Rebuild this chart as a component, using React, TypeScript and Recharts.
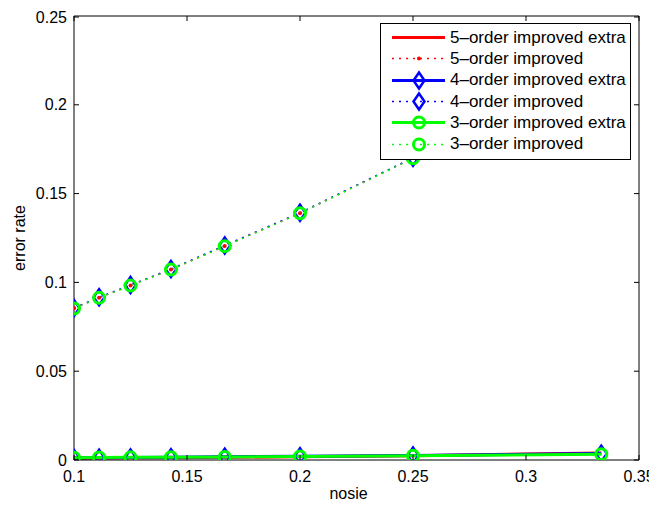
import React from 'react';
import { LineChart, Line, XAxis, YAxis, Legend, ReferenceLine } from 'recharts';

const noise = [0.1, 0.1111, 0.125, 0.1429, 0.1667, 0.2, 0.25, 0.3333];
const imp5 = [0.0854, 0.0914, 0.0983, 0.1072, 0.1205, 0.139, 0.17, 0.225];
const imp4 = [0.0856, 0.0916, 0.0985, 0.1075, 0.1208, 0.1392, 0.1702, 0.2252];
const imp3 = [0.0853, 0.0913, 0.0982, 0.1072, 0.1204, 0.1389, 0.1699, 0.2249];
const ext5 = [0.001, 0.0011, 0.0012, 0.0013, 0.0015, 0.0018, 0.0024, 0.004];
const ext4 = [0.0012, 0.0013, 0.0014, 0.0016, 0.0018, 0.0021, 0.0026, 0.0036];
const ext3 = [0.0013, 0.0014, 0.0015, 0.0016, 0.0017, 0.002, 0.0024, 0.0032];

const xTicks = [0.1, 0.15, 0.2, 0.25, 0.3, 0.35];
const yTicks = [0, 0.05, 0.1, 0.15, 0.2, 0.25];

const data = noise.map((x, i) => ({
  x,
  ext5: ext5[i],
  imp5: imp5[i],
  ext4: ext4[i],
  imp4: imp4[i],
  ext3: ext3[i],
  imp3: imp3[i],
}));

const FONT = '"Liberation Sans", Arial, sans-serif';
const TICK_LEN = 5;
const PLOT_H = 444;
const PLOT_W = 565;

const fmt = (v: number) => String(Number(v.toFixed(3)));

// bottom tick: label below, tick mark inward at bottom and mirrored at top
const BottomTick = (props: any) => {
  const { x, y, payload } = props;
  return (
    <g>
      <line x1={x} y1={y} x2={x} y2={y - TICK_LEN} stroke="#000" />
      <line x1={x} y1={y - PLOT_H} x2={x} y2={y - PLOT_H + TICK_LEN} stroke="#000" />
      <text x={x} y={y + 22} textAnchor="middle" fontSize={16} fontFamily={FONT} fill="#000">
        {fmt(payload.value)}
      </text>
    </g>
  );
};

const LeftTick = (props: any) => {
  const { x, y, payload } = props;
  return (
    <g>
      <line x1={x} y1={y} x2={x + TICK_LEN} y2={y} stroke="#000" />
      <line x1={x + PLOT_W} y1={y} x2={x + PLOT_W - TICK_LEN} y2={y} stroke="#000" />
      <text x={x - 7} y={y + 5.5} textAnchor="end" fontSize={16} fontFamily={FONT} fill="#000">
        {fmt(payload.value)}
      </text>
    </g>
  );
};

// markers
const diamond = (cx: number, cy: number, color: string, key?: any) => (
  <path
    key={key}
    d={`M${cx},${cy - 8} L${cx + 5.5},${cy} L${cx},${cy + 8} L${cx - 5.5},${cy} Z`}
    fill="none"
    stroke={color}
    strokeWidth={2.5}
  />
);
const circle = (cx: number, cy: number, color: string, key?: any) => (
  <circle key={key} cx={cx} cy={cy} r={5.5} fill="none" stroke={color} strokeWidth={3} />
);
const point = (cx: number, cy: number, color: string, key?: any) => (
  <circle key={key} cx={cx} cy={cy} r={2} fill={color} stroke="none" />
);

const dotOf = (kind: string, color: string) => (p: any) => {
  const k = `${p.dataKey}-${p.index}`;
  if (kind === 'diamond') return diamond(p.cx, p.cy, color, k);
  if (kind === 'circle') return circle(p.cx, p.cy, color, k);
  return point(p.cx, p.cy, color, k);
};

const RED = '#ff0000';
const BLUE = '#0000ff';
const GREEN = '#00ff00';
const DOTTED = '2 5';

const legendItems = [
  { label: '5\u2013order improved extra', color: RED, dash: false, marker: 'none' },
  { label: '5\u2013order improved', color: RED, dash: true, marker: 'point' },
  { label: '4\u2013order improved extra', color: BLUE, dash: false, marker: 'diamond' },
  { label: '4\u2013order improved', color: BLUE, dash: true, marker: 'diamond' },
  { label: '3\u2013order improved extra', color: GREEN, dash: false, marker: 'circle' },
  { label: '3\u2013order improved', color: GREEN, dash: true, marker: 'circle' },
];

const LegendBox = () => (
  <div
    style={{
      border: '1px solid #000',
      background: '#fff',
      width: 249,
      height: 132,
      paddingTop: 3,
      boxSizing: 'content-box',
      fontFamily: FONT,
      fontSize: 17,
      color: '#000',
    }}
  >
    {legendItems.map((it) => (
      <div key={it.label} style={{ display: 'flex', alignItems: 'center', height: 21.3 }}>
        <svg width={69} height={21} style={{ flex: 'none' }}>
          <line
            x1={11}
            y1={10.5}
            x2={64}
            y2={10.5}
            stroke={it.color}
            strokeWidth={it.dash ? 1.5 : 3}
            strokeDasharray={it.dash ? DOTTED : undefined}
          />
          {it.marker === 'diamond' && diamond(38, 10.5, it.color)}
          {it.marker === 'circle' && circle(38, 10.5, it.color)}
          {it.marker === 'point' && point(38, 10.5, it.color)}
        </svg>
        <span style={{ whiteSpace: 'nowrap' }}>{it.label}</span>
      </div>
    ))}
  </div>
);

export default function App() {
  return (
    <LineChart
      width={649}
      height={501}
      data={data}
      margin={{ top: 8, right: 18, left: 0, bottom: 0 }}
      style={{ overflow: 'visible' }}
    >
      {/* box: top and right edges */}
      <ReferenceLine y={0.25} stroke="#000" strokeWidth={1} ifOverflow="visible" />
      <ReferenceLine x={0.35} stroke="#000" strokeWidth={1} ifOverflow="visible" />
      <XAxis
        dataKey="x"
        type="number"
        domain={[0.1, 0.35]}
        ticks={xTicks}
        allowDataOverflow
        height={49}
        stroke="#000"
        tickLine={false}
        tickSize={0}
        tickMargin={0}
        tick={<BottomTick />}
        label={{ value: 'nosie', position: 'insideBottom', offset: 10, dx: -8, fill: '#000', fontSize: 16, fontFamily: FONT }}
      />
      <YAxis
        type="number"
        domain={[0, 0.25]}
        ticks={yTicks}
        allowDataOverflow
        width={66}
        stroke="#000"
        tickLine={false}
        tickSize={0}
        tickMargin={0}
        tick={<LeftTick />}
        label={{
          value: 'error rate',
          angle: -90,
          position: 'insideLeft',
          offset: 11,
          fill: '#000',
          fontSize: 16,
          fontFamily: FONT,
          style: { textAnchor: 'middle' },
        }}
      />
      <Line dataKey="ext5" stroke={RED} strokeWidth={3} dot={false} isAnimationActive={false} />
      <Line dataKey="imp5" stroke={RED} strokeWidth={1.5} strokeDasharray={DOTTED} dot={dotOf('point', RED)} isAnimationActive={false} />
      <Line dataKey="ext4" stroke={BLUE} strokeWidth={3} dot={dotOf('diamond', BLUE)} isAnimationActive={false} />
      <Line dataKey="imp4" stroke={BLUE} strokeWidth={1.5} strokeDasharray={DOTTED} dot={dotOf('diamond', BLUE)} isAnimationActive={false} />
      <Line dataKey="ext3" stroke={GREEN} strokeWidth={3} dot={dotOf('circle', GREEN)} isAnimationActive={false} />
      <Line dataKey="imp3" stroke={GREEN} strokeWidth={1.5} strokeDasharray={DOTTED} dot={dotOf('circle', GREEN)} isAnimationActive={false} />
      <Legend
        layout="vertical"
        align="center"
        verticalAlign="middle"
        content={() => <LegendBox />}
        wrapperStyle={{ left: 372, top: 15, width: 'auto' }}
      />
    </LineChart>
  );
}
